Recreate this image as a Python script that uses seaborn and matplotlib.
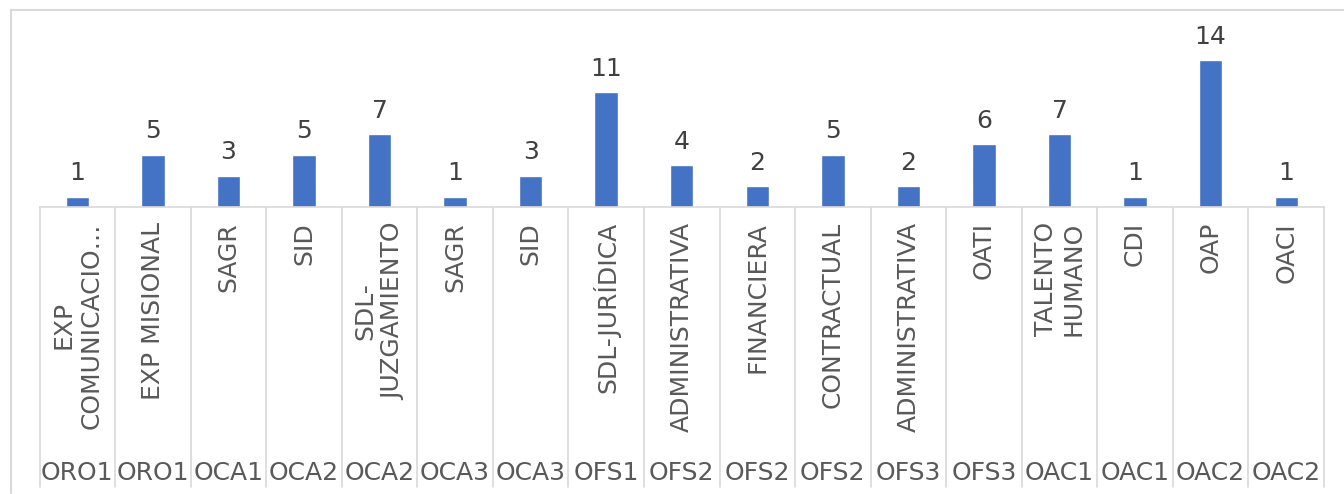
import pandas as pd
import seaborn as sns
import matplotlib
import matplotlib.pyplot as plt
from matplotlib import transforms
from matplotlib.lines import Line2D

matplotlib.use("Agg")
sns.set_theme(style="white")
plt.rcParams["font.family"] = ["DejaVu Sans"]

groups = ["ORO1", "ORO1", "OCA1", "OCA2", "OCA2", "OCA3", "OCA3", "OFS1", "OFS2",
          "OFS2", "OFS2", "OFS3", "OFS3", "OAC1", "OAC1", "OAC2", "OAC2"]
names = ["EXP\nCOMUNICACIO…", "EXP MISIONAL", "SAGR", "SID", "SDL-\nJUZGAMIENTO",
         "SAGR", "SID", "SDL-JURÍDICA", "ADMINISTRATIVA", "FINANCIERA", "CONTRACTUAL",
         "ADMINISTRATIVA", "OATI", "TALENTO\nHUMANO", "CDI", "OAP", "OACI"]
values = [1, 5, 3, 5, 7, 1, 3, 11, 4, 2, 5, 2, 6, 7, 1, 14, 1]

W, H = 1344, 494
GRID = "#D9D9D9"
FS = 18


def plot_chart():
    df = pd.DataFrame({"grupo": groups, "nombre": names, "valor": values})
    df["clave"] = [f"{g}|{n}|{i}" for i, (g, n) in enumerate(zip(groups, names))]

    fig = plt.figure(figsize=(W / 100, H / 100), dpi=100)
    # obszar wykresu: od linii bazowej (y=207px) w górę
    base_px = 207
    px_per_unit = 10.48
    ymax = 16
    ax = fig.add_axes([39.5 / W, (H - base_px) / H, (1324 - 39.5) / W, ymax * px_per_unit / H])

    sns.barplot(data=df, x="clave", y="valor", color="#4472C4", saturation=1,
                width=0.31, ax=ax)
    ax.set_ylim(0, ymax)
    ax.set_xlim(-0.5, len(df) - 0.5)
    ax.set_xticks([])
    ax.set_yticks([])
    ax.set_xlabel("")
    ax.set_ylabel("")
    for s in ["top", "left", "right"]:
        ax.spines[s].set_visible(False)
    ax.spines["bottom"].set_color(GRID)
    ax.spines["bottom"].set_linewidth(1.2)

    ax.bar_label(ax.containers[0], labels=[str(v) for v in df["valor"]],
                 padding=8, fontsize=FS, color="#404040")

    # etykiety kategorii (dwa poziomy) i linie podziału
    tr = transforms.blended_transform_factory(ax.transData, fig.transFigure)
    y_top = (H - base_px) / H
    y_bot = (H - 487) / H
    for i in range(len(df) + 1):
        ax.add_line(Line2D([i - 0.5, i - 0.5], [y_top, y_bot], transform=tr,
                           color=GRID, lw=1.2, clip_on=False))
    for i, row in df.iterrows():
        ax.text(i, (H - 222) / H, row["nombre"], transform=tr, rotation=90,
                ha="center", va="top", multialignment="center",
                fontsize=FS, color="#595959")
        ax.text(i, (H - 472.5) / H, row["grupo"], transform=tr,
                ha="center", va="center", fontsize=FS, color="#595959")

    # ramka wykresu
    fig.add_artist(Line2D([10.5 / W, 10.5 / W], [(H - 493) / H, (H - 10) / H],
                          transform=fig.transFigure, color=GRID, lw=1.5))
    fig.add_artist(Line2D([10.5 / W, 1.0], [(H - 10) / H, (H - 10) / H],
                          transform=fig.transFigure, color=GRID, lw=1.5))

    fig.savefig("out.png", dpi=100, facecolor="white")


if __name__ == "__main__":
    plot_chart()
